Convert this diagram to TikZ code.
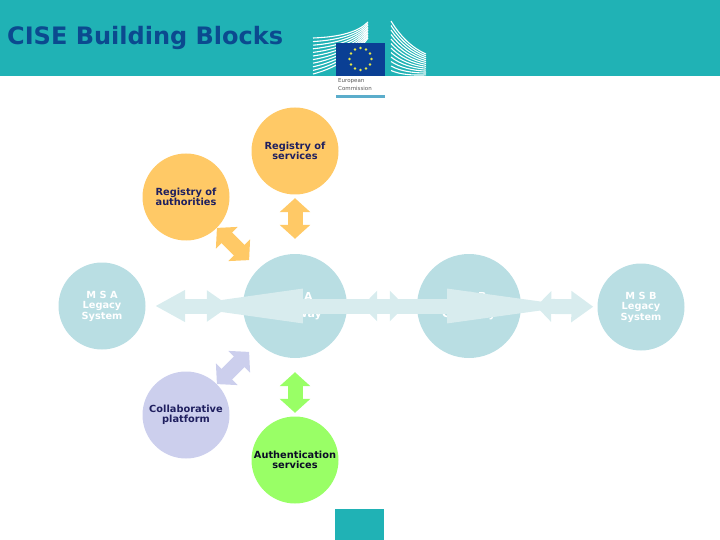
\documentclass[tikz,border=0pt]{standalone}
\usepackage{fontspec}
\setmainfont{DejaVu Sans}
\definecolor{cteal}{HTML}{20B2B5}
\definecolor{ctitle}{HTML}{0B4A8F}
\definecolor{corange}{HTML}{FFC966}
\definecolor{cblue}{HTML}{B9DEE3}
\definecolor{cpale}{HTML}{D8ECEE}
\definecolor{cviolet}{HTML}{CCCFED}
\definecolor{cgreen}{HTML}{99FF66}
\definecolor{cflag}{HTML}{0A3F94}
\definecolor{cstar}{HTML}{E6E84A}
\definecolor{cnavy}{HTML}{1F1F5F}
\definecolor{cbar}{HTML}{5BADCB}
\usetikzlibrary{arrows.meta}
\begin{document}
\begin{tikzpicture}[x=1pt,y=-1pt,
  block/.style={circle,minimum size=87pt,inner sep=0pt,align=center,
    font=\fontsize{9.8}{10.5}\selectfont\bfseries,text=cnavy},
  gate/.style={block,minimum size=104pt,fill=cblue,text=white,
    font=\fontsize{11}{11}\selectfont\bfseries},
  legacy/.style={block,fill=cblue,text=white},
  dbl/.style={line width=15pt,{Triangle[length=14pt,width=30pt]}-{Triangle[length=14pt,width=30pt]}},
  flat/.style={line width=15pt,cpale}]
  \useasboundingbox (0,0) rectangle (720,540);
  % header and footer
  \fill[cteal] (0,0) rectangle (720,76);
  \fill[cteal] (335,509) rectangle (384,540);
  \node[anchor=west,font=\fontsize{24}{28}\selectfont\bfseries,text=ctitle,inner sep=0pt] (title) at (7,38) {CISE Building Blocks};
  % logo
  \foreach \k in {0,...,10}
    \draw[white,line width=1.1pt] (313,38+\k*3.6) .. controls (340,37+\k*3) and (358,32+\k*2) .. (368,22+\k*1.6);
  \foreach \k in {0,...,11}
    \draw[white,line width=1.1pt] (391,21+\k*4.5) .. controls (400,36+\k*3.5) and (412,48+\k*2.5) .. (426,54+\k*1.9);
  \fill[cflag] (336,43) rectangle (385,76);
  \foreach \a in {0,30,...,330}
    \fill[cstar] (360.5,59) ++(\a:11pt) circle (1.3pt);
  \node[anchor=north west,inner sep=0pt,align=left,text=black!65,
    font=\fontsize{5.5}{8}\selectfont] (ec) at (338,78) {European\\Commission};
  \fill[cbar] (336,95) rectangle (385,98);
  % circles
  \node[block,fill=corange] (services) at (295,151) {Registry of\\services};
  \node[block,fill=corange] (authorities) at (186,197) {Registry of\\authorities};
  \node[legacy] (legacyA) at (102,306) {M S A\\Legacy\\System};
  \node[gate] (gateA) at (295,306) {M S A\\[6pt]Gateway};
  \node[gate] (gateB) at (469,306) {M S B\\[6pt]Gateway};
  \node[legacy] (legacyB) at (641,307) {M S B\\Legacy\\System};
  \node[block,fill=cviolet] (collab) at (186,415) {Collaborative\\platform};
  \node[block,fill=cgreen,text=black!60!cnavy] (authent) at (295,460) {Authentication\\services};
  % connectors
  \draw[dbl,corange,shorten <=3.5pt,shorten >=15pt] (services) -- (gateA);
  \draw[dbl,corange,shorten >=12.7pt] (authorities) -- (gateA);
  \draw[dbl,cviolet,shorten >=12.7pt] (collab) -- (gateA);
  \draw[dbl,cgreen,shorten <=14pt,shorten >=3.5pt] (gateA) -- (authent);
  \draw[flat,{Triangle[length=30pt,width=30pt]}-{Triangle[length=23pt,width=30pt]},
    shorten <=9.5pt,shorten >=13pt] (legacyA) -- (gateA);
  \draw[flat,{Triangle[length=15pt,width=30pt]}-{Triangle[length=15pt,width=30pt]},
    shorten <=15pt,shorten >=12pt] (gateA.east) -- (gateB.west);
  \draw[flat,{Triangle[length=141pt,width=30pt]}-{Triangle[length=143pt,width=30pt]},
    shorten <=-81pt,shorten >=-69pt] (gateA.west) -- (gateB.east);
  \draw[flat,{Triangle[length=15pt,width=30pt]}-{Triangle[length=22pt,width=30pt]},
    shorten <=15pt,shorten >=4pt] (gateB) -- (legacyB);
\end{tikzpicture}
\end{document}
